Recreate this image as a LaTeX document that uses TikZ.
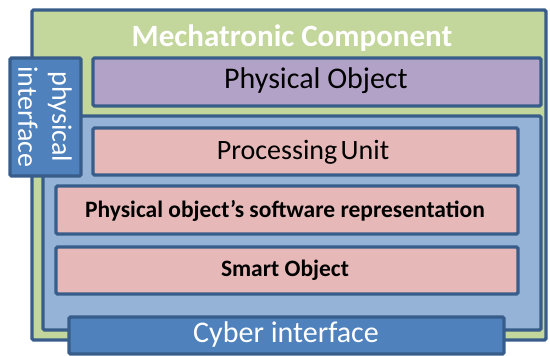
\documentclass[tikz,border=0pt]{standalone}
\usepackage{fontspec}
\setmainfont{Carlito}
\definecolor{cgreen}{HTML}{C3D69B}
\definecolor{cpurple}{HTML}{B3A2C7}
\definecolor{cblue}{HTML}{95B3D7}
\definecolor{cpink}{HTML}{E6B9B8}
\definecolor{cdark}{HTML}{4F81BD}
\definecolor{cedge}{HTML}{385D8A}
\tikzset{
  box/.style={draw=cedge, line width=3.2pt, rounded corners=1.5pt},
  lbl/.style={inner sep=0pt, anchor=center},
}
\begin{document}
\begin{tikzpicture}[x=1pt,y=-1pt]
\useasboundingbox (0,0) rectangle (550,356);
% outer mechatronic component
\draw[box, fill=cgreen] (32,10) rectangle (546,340);
\node[lbl, text=white, font=\fontsize{31}{34}\selectfont\bfseries] (title) at (292,38) {Mechatronic Component};
% physical object
\draw[box, fill=cpurple] (93,58) rectangle (541,106);
\node[lbl, font=\fontsize{30}{34}\selectfont] (po) at (316,81) {Physical Object};
% cyber part
\draw[box, fill=cblue] (43,116) rectangle (541,330);
\draw[box, fill=cpink] (93,128) rectangle (518,175);
\node[lbl, font=\fontsize{28}{32}\selectfont] (pu) at (303,152) {Processing\hspace{0.12em}Unit};
\draw[box, fill=cpink] (56,186) rectangle (518,234);
\node[lbl, font=\fontsize{23.5}{26}\selectfont\bfseries] (sw) at (285,211) {Physical object’s software representation};
\draw[box, fill=cpink] (56,247) rectangle (518,294);
\node[lbl, font=\fontsize{23.5}{26}\selectfont\bfseries] (so) at (285,270) {Smart Object};
% interfaces
\draw[box, fill=cdark] (69,317) rectangle (504,354);
\node[lbl, text=white, font=\fontsize{30}{34}\selectfont] (ci) at (286,335) {Cyber interface};
\draw[box, fill=cdark] (10,58) rectangle (81,176);
\node[lbl, text=white, rotate=-90, align=center, font=\fontsize{28}{34}\selectfont] (pi) at (45,117) {physical\\interface};
\end{tikzpicture}
\end{document}
